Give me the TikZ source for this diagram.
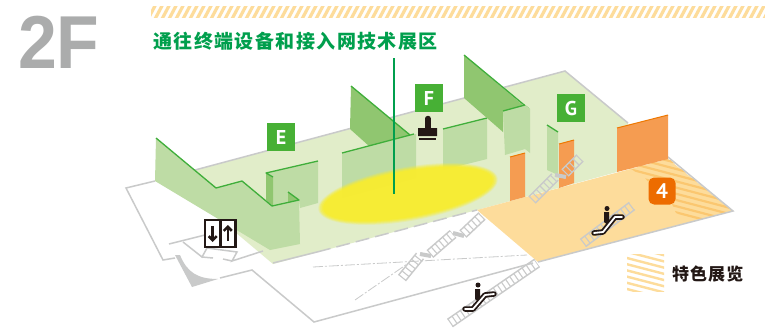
\documentclass[tikz,border=0pt]{standalone}
\usepackage{fontspec}
\usetikzlibrary{calc,arrows.meta}
\newfontfamily\cjk{Noto Sans CJK SC}
\newfontfamily\latinb{Liberation Sans}
\newfontfamily\tagf{PT Sans}
\definecolor{gline}{HTML}{C9CACA}
\definecolor{floorg}{HTML}{E1EDC9}
\definecolor{wallg}{HTML}{BEDCA5}
\definecolor{walld}{HTML}{90C670}
\definecolor{edgeg}{HTML}{3FAE3A}
\definecolor{tagg}{HTML}{47B035}
\definecolor{titleg}{HTML}{009F4D}
\definecolor{flooro}{HTML}{FDDC9B}
\definecolor{stripeo}{HTML}{FBC770}
\definecolor{pano}{HTML}{F59C51}
\definecolor{edgeo}{HTML}{EE7800}
\definecolor{bado}{HTML}{ED6C00}
\definecolor{ink}{HTML}{231815}
\definecolor{twof}{HTML}{ABACAC}
\definecolor{zoney}{HTML}{F7EC32}
\tikzset{
  outline/.style={draw=gline,line width=1.5pt,line join=miter},
  thindash/.style={draw=gline,line width=.8pt,dash pattern=on 10pt off 2pt on 2pt off 2pt},
  lightwall/.style={fill=wallg,draw=none},
  darkwall/.style={fill=walld,draw=none},
  pan/.style={fill=pano,draw=none},
  topg/.style={draw=edgeg,line width=1.3pt,line join=round},
  topo/.style={draw=edgeo,line width=1pt},
  tagbox/.style={fill=tagg,text=white,minimum size=28pt,inner sep=0pt,font=\tagf\fontsize{20}{20}\selectfont\bfseries},
  ladderrung/.style={draw=gline,line width=9pt,dash pattern=on 1.1pt off 3.9pt},
  ladderrail/.style={draw=gline,line width=1.4pt},
  iconblk/.style={draw=ink,line width=5.5pt,line cap=round,line join=round},
  iconwht/.style={draw=white,line width=1.8pt,line cap=round,line join=round},
}
\newcommand{\ladderseg}[2]{%
  \draw[ladderrung] #1 -- #2;
  \draw[ladderrail] ($#1!4.5pt!90:#2$) -- ($#2!4.5pt!-90:#1$);
  \draw[ladderrail] ($#1!4.5pt!-90:#2$) -- ($#2!4.5pt!90:#1$);
}
\begin{document}
\begin{tikzpicture}[x=1pt,y=-1pt]
\useasboundingbox (0,0) rectangle (765,332);
\fill[white] (0,0) rectangle (765,332);
% top stripe
\begin{scope}
  \clip (151,6) rectangle (765,17);
  \foreach \i in {0,...,90} {
    \draw[flooro,line width=3.2pt] ({148+\i*7},19) -- ({156+\i*7},4);
  }
\end{scope}
% floors
\fill[floorg] (195,170) -- (565,71) -- (628,123) -- (617,172) -- (477,210) -- (273,264) -- (235,232) -- cycle;
\fill[flooro] (477,210) -- (668,159) -- (733,211) -- (538,262) -- cycle;
% stripes on orange floor
\begin{scope}
  \clip (628,167) -- (668,158) -- (733,211) -- (695,221) -- (676,213) -- (672,204) -- (655,190) -- (645,178) -- cycle;
  \foreach \i in {-16,...,12} {
    \draw[stripeo,line width=2.2pt] (600,{180+\i*6.2}) -- (760,{222+\i*6.2});
  }
\end{scope}
% outlines
\draw[outline] (155,181) -- (126,188) -- (163,260) -- (175,258);
\draw[outline] (220,278) -- (252,270) -- (314,322) -- (533,263);
\draw[outline] (195,170) -- (565,71) -- (628,123);
\draw[outline] (668,157) -- (733,211) -- (538,262);
\draw[outline] (169,244) -- (205,235);
\draw[outline] (183,242) -- (202,257) -- (207,248) -- (237,252) -- (232,261) -- (263,251);
\draw[outline] (202,257) -- (213,258);
\draw[outline] (223,259) -- (232,261);
\draw[outline] (273,263) -- (317,252);
\draw[outline,dash pattern=on 14pt off 6pt] (317,252) -- (477,210);
\fill[gline] (175,255) -- (180,255) .. controls (187,272) and (197,279) .. (218,279) -- (192,287) -- cycle;
\draw[thindash] (313,267) -- (527,255);
\draw[thindash] (355,300) -- (410,262);
% ladders
\ladderseg{(450,323)}{(537,263)}
\ladderseg{(402,278)}{(420,256)}
\draw[ladderrail,line width=4pt] (420,254) -- (431,256);
\ladderseg{(430,254)}{(453,234)}
\draw[ladderrail,line width=4pt] (453,233) -- (464,236);
\ladderseg{(463,234)}{(482,216)}
% walls, E side
\fill[lightwall] (156,138) -- (216,188) -- (242,181) -- (272,206) -- (299,200) -- (300,244) -- (270,250) -- (155,181) -- cycle;
\fill[lightwall] (266,173) -- (318,161) -- (318,203) -- (300,208) -- (299,200) -- (272,206) -- cycle;
\fill[darkwall] (266,173) -- (273,177) -- (273,206) -- (266,200) -- cycle;
\fill[darkwall] (288,192) -- (299,200) -- (288,202) -- cycle;
\draw[topg] (156,138) -- (216,188) -- (242,181) -- (272,206) -- (299,200) -- (288,192);
\draw[topg] (273,177) -- (266,173) -- (318,161);
% mid walls
\fill[darkwall] (351,86) -- (410,135) -- (369,146) -- (350,129) -- cycle;
\draw[topg] (351,86) -- (410,135);
\fill[lightwall] (342,153) -- (416,134) -- (416,178) -- (342,198) -- cycle;
\draw[topg] (342,153) -- (414,134);
\fill[lightwall] (443,129) -- (487,118) -- (487,159) -- (443,170) -- cycle;
\draw[topg] (443,129) -- (487,118);
\fill[darkwall] (464,55) -- (525,107) -- (503,112) -- (503,132) -- (464,98) -- cycle;
\draw[topg] (464,55) -- (529,109);
\fill[lightwall] (503,111) -- (525,105) -- (530,109) -- (530,153) -- (525,149) -- (505,155) -- cycle;
\draw[topg] (503,111) -- (525,105);
\fill[lightwall] (547,125) -- (558,132) -- (558,175) -- (547,170) -- cycle;
\draw[topg] (547,125) -- (558,132);
% orange panels
\fill[pan] (510,157) -- (525,153) -- (525,197) -- (510,201) -- cycle;
\draw[topo] (510,157) -- (525,153);
\fill[pan] (559,144) -- (574,140) -- (574,183) -- (559,188) -- cycle;
\draw[topo] (559,144) -- (574,140);
\fill[pan] (617,128) -- (668,115) -- (668,159) -- (617,172) -- cycle;
\draw[topo] (617,128) -- (668,115);
% upper ladders
\ladderseg{(532,200)}{(555,177)}
\draw[ladderrail,line width=4pt] (555,175) -- (566,177);
\ladderseg{(565,173)}{(580,158)}
\ladderseg{(583,243)}{(632,206)}
% yellow zone
\foreach \a/\b/\o in {91/27/.2,90/26/.3,89/25/.4,87.5/24/.55,86/23/.85} {
  \fill[zoney,fill opacity=\o,rotate around={10:(408,194)}] (408,194) ellipse ({\a pt} and {\b pt});
}
% leader
\coordinate (leadtop) at (394,58);
\coordinate (leadend) at (394,194);
\draw[titleg,line width=1.1pt] (leadtop) -- (leadend);
% texts
\node[anchor=west,inner sep=0pt,text=twof,xscale=.93] (two) at (18,42) {\latinb\fontsize{75}{75}\selectfont\bfseries 2F};
\node[anchor=west,inner sep=0pt,text=titleg] (title) at (153,41) {\cjk\fontsize{19}{20}\selectfont\bfseries\addfontfeature{LetterSpace=7.5}通往终端设备和接入网技术展区};
\node[tagbox] (tagE) at (281,137) {E};
\node[tagbox] (tagF) at (429,98) {F};
\node[tagbox] (tagG) at (571,108) {G};
% stamp icon
\draw[ink,line width=5.4pt,line cap=round] (428,118.5) -- (428,126);
\fill[ink] (425.5,124) -- (430.5,124) -- (431,128) -- (437,128) -- (437,136) -- (418,136) -- (418,128) -- (425,128) -- cycle;
\fill[ink] (419,137.5) rectangle (436,140);
% lift icon
\draw[ink,line width=2.4pt,fill=white] (205,220) rectangle (235.5,247);
\draw[ink,line width=2.4pt] (220.3,220) -- (220.3,247);
\draw[ink,line width=2.6pt,-{Straight Barb[length=4pt,width=8pt]}] (212.7,226) -- (212.7,242);
\draw[ink,line width=2.6pt,-{Straight Barb[length=4pt,width=8pt]}] (227.8,241) -- (227.8,225);
% badge 4
\node[fill=bado,text=white,rounded corners=5.5pt,minimum size=27pt,inner sep=0pt,font=\tagf\fontsize{21}{21}\selectfont\bfseries] (badge) at (662,191) {4};
% escalator icons
\fill[ink] (607,208.5) circle (2.5);
\fill[ink] (604,212) -- (609,212) -- (609,226) -- (604,222) -- cycle;
\draw[iconblk] (594,233) -- (603,232) -- (615,217) -- (622,217);
\draw[iconwht] (594,233) -- (603,232) -- (615,217) -- (622,217);
\fill[ink] (478,285) circle (2.5);
\fill[ink] (475,289) -- (480,289) -- (480,303) -- (475,299) -- cycle;
\draw[iconblk] (465,309) -- (473,309) -- (485,295) -- (494,294);
\draw[iconwht] (465,309) -- (473,309) -- (485,295) -- (494,294);
% legend
\begin{scope}
  \clip (627,254) rectangle (664,291);
  \foreach \i in {-6,...,8} {
    \draw[flooro,line width=2.4pt] (620,{250+\i*6.2}) -- (670,{263+\i*6.2});
  }
\end{scope}
\node[anchor=west,inner sep=0pt,text=ink] (legend) at (672,274.5) {\cjk\fontsize{17}{18}\selectfont\bfseries\addfontfeature{LetterSpace=6}特色展览};
\end{tikzpicture}
\end{document}
